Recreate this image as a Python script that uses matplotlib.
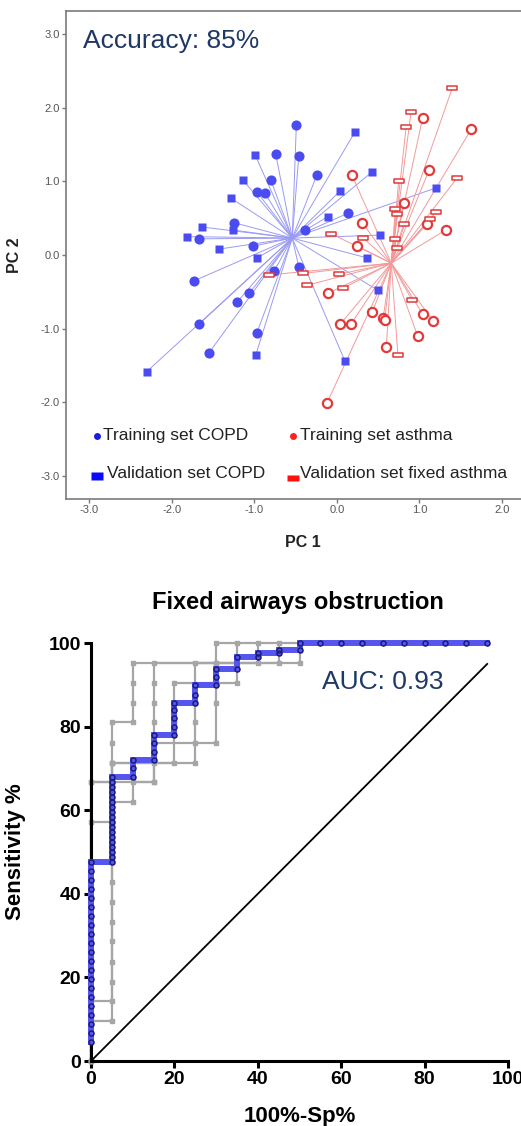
import matplotlib
matplotlib.use('Agg')
import matplotlib.pyplot as plt
from matplotlib.path import Path

plt.rcParams['font.family'] = ['Liberation Sans', 'DejaVu Sans']

# PCA scores, training set COPD
copd_train_pc1 = [-0.97, -1.25, -1.67, -1.02, -0.49, -0.74, -0.46, -0.80, -0.87, -0.24,
                  0.14, -0.39, -1.73, -1.06, -1.21, -1.67, -1.55, -0.97, -0.76, -0.46]
copd_train_pc2 = [0.86, 0.44, 0.22, 0.12, 1.77, 1.37, 1.35, 1.02, 0.84, 1.09,
                  0.57, 0.34, -0.35, -0.52, -0.64, -0.94, -1.33, -1.06, -0.22, -0.16]

# PCA scores, validation set COPD
copd_val_pc1 = [-0.99, -1.14, -1.28, -1.63, -1.81, -1.26, -1.43, 0.22, 0.43, 0.04,
                -0.11, 0.52, 1.20, 0.37, -2.30, -0.98, -0.97, 0.50, 0.10]
copd_val_pc2 = [1.36, 1.02, 0.77, 0.38, 0.25, 0.34, 0.08, 1.67, 1.13, 0.87,
                0.52, 0.27, 0.91, -0.04, -1.58, -1.35, -0.04, -0.48, -1.44]

# PCA scores, training set asthma
asthma_train_pc1 = [0.18, 1.04, 1.63, 1.12, 0.81, 0.31, 1.09, 1.32, 0.25, -0.11,
                    0.43, 0.56, 0.58, 0.04, 0.17, 1.04, 1.17, 0.98, 0.60, -0.12]
asthma_train_pc2 = [1.09, 1.86, 1.71, 1.16, 0.71, 0.44, 0.42, 0.34, 0.12, -0.52,
                    -0.77, -0.86, -0.88, -0.94, -0.94, -0.80, -0.90, -1.10, -1.25, -2.01]

# PCA scores, validation set fixed asthma
asthma_val_pc1 = [1.40, 0.90, 0.84, 0.75, 1.46, 0.71, 0.73, 1.20, 0.81, 1.13, -0.07,
                  0.32, 0.71, 0.73, -0.82, -0.41, -0.36, 0.03, 0.08, 0.91, 0.74]
asthma_val_pc2 = [2.27, 1.94, 1.74, 1.01, 1.05, 0.63, 0.56, 0.58, 0.42, 0.49, 0.29,
                  0.23, 0.22, 0.10, -0.27, -0.25, -0.41, -0.26, -0.45, -0.61, -1.36]

# group centroids
copd_center = (-0.54, 0.23)
asthma_center = (0.66, -0.11)

# averaged ROC curve: sensitivity values at each 100%-Sp step
roc_fpr_steps = [0, 5, 10, 15, 20, 25, 30, 35, 40, 45, 50, 55, 60, 65, 70, 75, 80, 85, 90, 95]
roc_sens_steps = [
    [4.6, 6.8, 8.9, 11.1, 13.2, 15.4, 17.5, 19.7, 21.8, 24.0, 26.1, 28.3, 30.4, 32.6,
     34.7, 36.9, 39.0, 41.2, 43.3, 45.5, 47.6],
    [47.6, 48.8, 50.0, 51.2, 52.4, 53.6, 54.8, 56.0, 57.1, 58.3, 59.5, 60.7, 61.9,
     63.1, 64.3, 65.5, 66.7, 67.9],
    [67.9, 70.0, 72.1],
    [72.1, 74.0, 76.0, 78.1],
    [78.1, 80.0, 82.1, 84.0, 85.7],
    [85.7, 87.6, 90.0],
    [90.0, 91.9, 93.8],
    [93.8, 96.7],
    [96.7, 97.6],
    [97.6, 98.4],
    [98.4, 100],
    [100], [100], [100], [100], [100], [100], [100], [100], [100],
]

# individual ROC curves
fold_a_fpr = [0, 0, 5, 5, 5, 5, 10, 10, 10, 10, 30, 30, 50]
fold_a_sens = [0, 66.7, 66.7, 71.4, 76.2, 81.0, 81.0, 85.7, 90.5, 95.2, 95.2, 100, 100]
fold_b_fpr = [0, 0, 5, 5, 10, 10, 15, 15, 15, 15, 15, 15, 15, 40, 40]
fold_b_sens = [0, 57.1, 57.1, 61.9, 61.9, 66.7, 66.7, 71.4, 76.2, 81.0, 85.7, 90.5, 95.2, 95.2, 100]
fold_c_fpr = [0, 0, 5, 5, 5, 5, 5, 5, 5, 5, 5, 5, 5, 5, 25, 25, 25, 25, 25, 45, 45]
fold_c_sens = [0, 14.3, 14.3, 19.0, 23.8, 28.6, 33.3, 38.1, 42.9, 47.6, 57.1, 61.9, 66.7, 71.4,
               71.4, 76.2, 81.0, 85.7, 95.2, 95.2, 100]
fold_d_fpr = [0, 0, 5, 5, 15, 15, 30, 30, 30, 35, 35]
fold_d_sens = [0, 9.5, 9.5, 66.7, 66.7, 76.2, 76.2, 85.7, 90.5, 90.5, 100]
fold_e_fpr = [0, 0, 5, 5, 20, 20, 20, 20, 30, 30, 50, 50]
fold_e_sens = [0, 66.7, 66.7, 71.4, 71.4, 81.0, 85.7, 90.5, 90.5, 95.2, 95.2, 100]

diag_fpr = [0, 95]
diag_sens = [0, 95]

fig = plt.figure(figsize=(5.21, 11.26), dpi=100)

# ---------------- PCA score plot ----------------
ax1 = fig.add_axes([0.1267, 0.5568, 0.908, 0.4334])
ax1.set_xlim(-3.28, 2.45)
ax1.set_ylim(-3.31, 3.31)

blue = '#4b4bf2'
red = '#e03a3a'
for xs, ys in [(copd_train_pc1, copd_train_pc2), (copd_val_pc1, copd_val_pc2)]:
    for x, y in zip(xs, ys):
        ax1.plot([copd_center[0], x], [copd_center[1], y], color='#9a9af2', lw=0.7, zorder=1)
for xs, ys in [(asthma_train_pc1, asthma_train_pc2), (asthma_val_pc1, asthma_val_pc2)]:
    for x, y in zip(xs, ys):
        ax1.plot([asthma_center[0], x], [asthma_center[1], y], color='#f29a9a', lw=0.7, zorder=1)

rect = Path([(-1, -0.4), (1, -0.4), (1, 0.4), (-1, 0.4), (-1, -0.4)],
            [Path.MOVETO, Path.LINETO, Path.LINETO, Path.LINETO, Path.CLOSEPOLY])

ax1.plot(copd_train_pc1, copd_train_pc2, 'o', color=blue, ms=7.3, mec='none', zorder=3)
ax1.plot(copd_val_pc1, copd_val_pc2, 's', color=blue, ms=5.6, mec='none', zorder=3)
ax1.plot(asthma_train_pc1, asthma_train_pc2, 'o', mfc='white', mec=red, mew=1.6, ms=6.6, zorder=3)
ax1.plot(asthma_val_pc1, asthma_val_pc2, marker=rect, ls='none', mfc='white', mec=red,
         mew=1.1, ms=7.5, zorder=3)

for side in ['left', 'bottom', 'top', 'right']:
    ax1.spines[side].set_color('#7a7a7a')
    ax1.spines[side].set_linewidth(1.2)
ax1.set_xticks([-3, -2, -1, 0, 1, 2])
ax1.set_xticklabels(['-3.0', '-2.0', '-1.0', '0.0', '1.0', '2.0'])
ax1.set_yticks([-3, -2, -1, 0, 1, 2, 3])
ax1.set_yticklabels(['-3.0', '-2.0', '-1.0', '0.0', '1.0', '2.0', '3.0'])
ax1.tick_params(direction='out', length=3, width=1, color='#7a7a7a',
                labelsize=8, labelcolor='#555555', pad=1.5)
ax1.set_xlabel('PC 1', fontsize=11.5, fontweight='bold', color='#222222', labelpad=14)
ax1.set_ylabel('PC 2', fontsize=11.5, fontweight='bold', color='#222222', labelpad=8)
ax1.yaxis.set_label_coords(-0.093, 0.5)

ax1.text(0.036, 0.924, 'Accuracy: 85%', transform=ax1.transAxes, fontsize=19,
         color='#1f3864', va='baseline', ha='left')

# legend
leg_kw = dict(transform=ax1.transAxes, clip_on=False, ls='none', zorder=5)
ax1.plot([0.0655], [0.129], 'o', color='#1a1ae6', ms=5, mec='none', **leg_kw)
ax1.plot([0.0655], [0.047], color='#0a0aff', ms=9, mec='none',
         marker=Path([(-1, -0.65), (1, -0.65), (1, 0.65), (-1, 0.65), (-1, -0.65)]), **leg_kw)
ax1.plot([0.48], [0.129], 'o', color='#ff2020', ms=5, mec='none', **leg_kw)
ax1.plot([0.48], [0.044], color='#ff1010', ms=8, mec='none',
         marker=Path([(-1, -0.6), (1, -0.6), (1, 0.6), (-1, 0.6), (-1, -0.6)]), **leg_kw)
txt_kw = dict(transform=ax1.transAxes, fontsize=12.5, color='#222222', va='center', ha='left')
ax1.text(0.078, 0.131, 'Training set COPD', **txt_kw)
ax1.text(0.087, 0.052, 'Validation set COPD', **txt_kw)
ax1.text(0.495, 0.131, 'Training set asthma', **txt_kw)
ax1.text(0.495, 0.052, 'Validation set fixed asthma', **txt_kw)

# ---------------- ROC curve ----------------
ax2 = fig.add_axes([0.1747, 0.0577, 0.8004, 0.3712])
ax2.set_xlim(0, 100)
ax2.set_ylim(0, 100)

gray = '#a6a6a6'
for fx, fy in [(fold_a_fpr, fold_a_sens), (fold_b_fpr, fold_b_sens), (fold_c_fpr, fold_c_sens),
               (fold_d_fpr, fold_d_sens), (fold_e_fpr, fold_e_sens)]:
    ax2.plot(fx, fy, color=gray, lw=1.6, marker='s', ms=2.6, mec=gray, mfc=gray,
             clip_on=False, zorder=2)

ax2.plot(diag_fpr, diag_sens, color='black', lw=1.3, zorder=3)

roc_fpr = []
roc_sens = []
for fpr, sens_list in zip(roc_fpr_steps, roc_sens_steps):
    for s in sens_list:
        roc_fpr.append(fpr)
        roc_sens.append(s)
ax2.plot(roc_fpr, roc_sens, color='#5555f0', lw=4.3, solid_joinstyle='miter',
         clip_on=False, zorder=4)
ax2.plot(roc_fpr, roc_sens, ls='none', marker='o', ms=3.6, mfc='none', mec='#1b1b7a',
         mew=1.1, clip_on=False, zorder=5)

ax2.spines['right'].set_visible(False)
ax2.spines['top'].set_visible(False)
for side in ['left', 'bottom']:
    ax2.spines[side].set_linewidth(2.2)
ax2.set_xticks([0, 20, 40, 60, 80, 100])
ax2.set_yticks([0, 20, 40, 60, 80, 100])
ax2.tick_params(direction='out', length=5, width=2.2, labelsize=14, pad=2)
for lab in ax2.get_xticklabels() + ax2.get_yticklabels():
    lab.set_fontweight('bold')

ax2.set_xlabel('100%-Sp%', fontsize=16, fontweight='bold')
ax2.xaxis.set_label_coords(0.5, -0.107)
ax2.set_ylabel('Sensitivity %', fontsize=16, fontweight='bold')
ax2.yaxis.set_label_coords(-0.156, 0.5)

ax2.text(55.4, 88.9, 'AUC: 0.93', fontsize=19, color='#1f3864', va='baseline', ha='left')
fig.text(0.572, 1 - 602 / 1126, 'Fixed airways obstruction', fontsize=17,
         fontweight='bold', ha='center', va='center')

fig.savefig('out.png', dpi=100)
